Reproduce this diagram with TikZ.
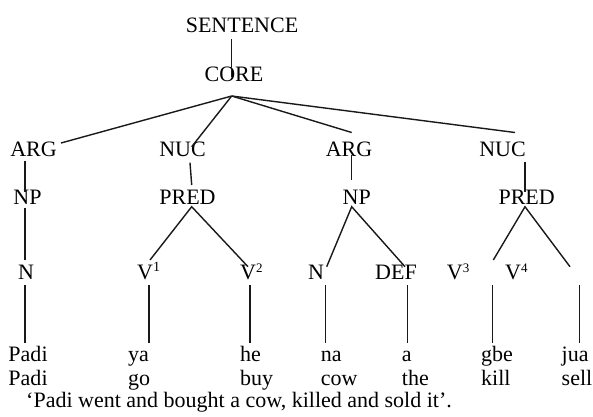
\documentclass[tikz,border=0pt]{standalone}
\usepackage{fontspec}
\setmainfont{Liberation Serif}
\begin{document}
\begin{tikzpicture}[x=1pt,y=-1pt,
  lab/.style={inner sep=0pt, anchor=base, font=\fontsize{22}{24}\selectfont},
  labw/.style={inner sep=0pt, anchor=base west, font=\fontsize{22}{24}\selectfont},
  wrd/.style={inner sep=0pt, anchor=base west, font=\fontsize{22}{24}\selectfont},
  edge/.style={draw=black!90, line width=1.4pt}]
\useasboundingbox (0,0) rectangle (593,416);
\newcommand{\supnum}[1]{\raisebox{7.5pt}{\fontsize{13}{13}\selectfont #1}}
% category labels
\node[lab] (sent) at (242,32.7) {SENTENCE};
\node[lab] (core) at (234,81.7) {CORE};
\node[lab] (arg1) at (33.5,156) {ARG};
\node[lab] (nuc1) at (182.5,156) {NUC};
\node[lab] (arg2) at (349,156) {ARG};
\node[lab] (nuc2) at (502.5,156) {NUC};
\node[lab] (np1) at (27.5,204) {NP};
\node[lab] (pred1) at (187.5,204) {PRED};
\node[lab] (np2) at (356.7,204) {NP};
\node[lab] (pred2) at (526.7,204) {PRED};
\node[labw] (n1) at (18,279.5) {N};
\node[labw] (v1) at (137,279.5) {V\raisebox{8.5pt}{\fontsize{14}{14}\selectfont 1}};
\node[labw] (v2) at (240,279.5) {V\supnum{2}};
\node[labw] (n2) at (308,279.5) {N};
\node[labw] (def) at (375,279.5) {DEF};
\node[labw] (v3) at (446.7,279.5) {V\supnum{3}};
\node[labw] (v4) at (505,279.5) {V\supnum{4}};
% words
\node[wrd] (w1) at (8.3,361.7) {Padi};
\node[wrd] (w2) at (128,361.7) {ya};
\node[wrd] (w3) at (240,361.7) {he};
\node[wrd] (w4) at (320.7,361.7) {na};
\node[wrd] (w5) at (401.7,361.7) {a};
\node[wrd] (w6) at (481,361.7) {gbe};
\node[wrd] (w7) at (561.5,361.7) {jua};
\node[wrd] (g1) at (8.3,385) {Padi};
\node[wrd] (g2) at (128,385) {go};
\node[wrd] (g3) at (240,385) {buy};
\node[wrd] (g4) at (320.7,385) {cow};
\node[wrd] (g5) at (401.7,385) {the};
\node[wrd] (g6) at (481,385) {kill};
\node[wrd] (g7) at (561.5,385) {sell};
\node[wrd] (tr) at (26,407.3) {‘Padi went and bought a cow, killed and sold it’.};
% connector end points
\coordinate (sentB) at (231.7,39.3); \coordinate (coreT) at (231.7,76.5);
\coordinate (coreB) at (231.7,96);
\coordinate (arg1T) at (61,143); \coordinate (nuc1T) at (191.7,146.7);
\coordinate (arg2T) at (351.7,132.5); \coordinate (nuc2T) at (515,132.5);
\coordinate (arg1B) at (25,160.7); \coordinate (np1T) at (25,191.7);
\coordinate (np1B) at (25,208); \coordinate (n1T) at (25,260);
\coordinate (nuc1B) at (190,162.7); \coordinate (pred1T) at (191.7,185);
\coordinate (pred1B) at (191.7,206.7); \coordinate (v1T) at (150,260); \coordinate (v2T) at (248,266.7);
\coordinate (arg2B) at (351.7,155); \coordinate (np2T) at (351.7,180);
\coordinate (np2B) at (351.7,206.7); \coordinate (n2T) at (326.7,266.7); \coordinate (defT) at (405,266.7);
\coordinate (nuc2B) at (525,161.7); \coordinate (pred2T) at (525,191.7);
\coordinate (pred2B) at (525,206.7); \coordinate (v3T) at (493.3,260); \coordinate (v4T) at (570,266.7);
\foreach \nm/\xx in {a/25,b/149,c/250,d/325.3,e/407.7,f/492.7,g/579.3}{
  \coordinate (top\nm) at (\xx,285);
  \coordinate (bot\nm) at (\xx,342.7);
}
% connectors
\draw[edge] (sentB) -- (coreT);
\draw[edge] (coreB) -- (arg1T);
\draw[edge] (coreB) -- (nuc1T);
\draw[edge] (coreB) -- (arg2T);
\draw[edge] (coreB) -- (nuc2T);
\draw[edge] (arg1B) -- (np1T);
\draw[edge] (np1B) -- (n1T);
\draw[edge] (nuc1B) -- (pred1T);
\draw[edge] (v1T) -- (pred1B) -- (v2T);
\draw[edge] (arg2B) -- (np2T);
\draw[edge] (n2T) -- (np2B) -- (defT);
\draw[edge] (nuc2B) -- (pred2T);
\draw[edge] (v3T) -- (pred2B) -- (v4T);
\foreach \nm in {a,b,c,d,e,f,g}{
  \draw[edge] (top\nm) -- (bot\nm);
}
\end{tikzpicture}
\end{document}
